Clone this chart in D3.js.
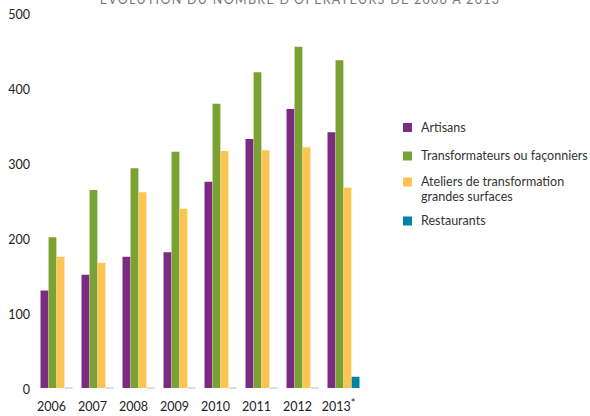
<!DOCTYPE html>
<html lang="fr">
<head>
<meta charset="utf-8">
<script src="https://cdn.jsdelivr.net/npm/d3@7"></script>
<style>
  html, body { margin: 0; padding: 0; background: #fff; }
  svg { display: block; font-family: Lato, "Open Sans", sans-serif; }
</style>
</head>
<body>
<svg id="chart" width="590" height="416"></svg>
<script>
// Nombre d'opérateurs par année et par catégorie
const years = ["2006", "2007", "2008", "2009", "2010", "2011", "2012", "2013"];
const yearNotes = ["", "", "", "", "", "", "", "*"];
const seriesNames = ["Artisans", "Transformateurs ou façonniers", "Ateliers de transformation grandes surfaces", "Restaurants"];
const legendLines = [["Artisans"], ["Transformateurs ou façonniers"], ["Ateliers de transformation", "grandes surfaces"], ["Restaurants"]];
const artisans = [130, 151, 175, 181, 275, 332, 372, 341];
const transformateurs = [201, 264, 293, 315, 379, 421, 455, 437];
const ateliers = [175, 167, 261, 239, 316, 317, 321, 267];
const restaurants = [0, 0, 0, 0, 0, 0, 0, 15];
const yTicks = [0, 100, 200, 300, 400, 500];
const colors = ["#7b2c81", "#7aa232", "#fec452", "#0082a6"];
const titleText = "ÉVOLUTION DU NOMBRE D'OPÉRATEURS DE 2006 À 2013";

const values = [artisans, transformateurs, ateliers, restaurants];
const svg = d3.select("#chart");

const x0 = d3.scaleBand().domain(years).range([36, 364]).paddingInner(0.22).paddingOuter(0.11);
const x1 = d3.scaleBand().domain(d3.range(seriesNames.length)).range([0, x0.bandwidth()]).paddingInner(0.03);
const y = d3.scaleLinear().domain([0, 500]).range([388, 13]);

// Titre (partiellement hors cadre en haut)
svg.append("text")
  .attr("x", 300).attr("y", 3.5)
  .attr("text-anchor", "middle")
  .attr("fill", "#777")
  .style("font-size", "12.5px")
  .style("letter-spacing", "1.3px")
  .text(titleText);

// Axe vertical : libellés seuls
const yAxis = d3.axisLeft(y).tickValues(yTicks).tickSize(0).tickPadding(0);
const gy = svg.append("g").attr("transform", "translate(30,1.5)").call(yAxis);
gy.select(".domain").remove();
gy.selectAll("text").attr("fill", "#222").style("font-size", "12.5px")
  .style("font-family", "Lato, 'Open Sans', sans-serif");

// Barres groupées
const groups = svg.append("g").selectAll("g")
  .data(years)
  .join("g")
  .attr("transform", d => `translate(${x0(d)},0)`);

groups.selectAll("rect")
  .data((d, i) => values.map((s, k) => ({ k, v: s[i] })))
  .join("rect")
  .attr("x", d => x1(d.k))
  .attr("width", x1.bandwidth())
  .attr("y", d => d.v > 0 ? y(d.v) : y(0) - 1)
  .attr("height", d => d.v > 0 ? y(0) - y(d.v) : 2)
  .attr("fill", d => d.v > 0 ? colors[d.k] : "#dcdcdc");

// Libellés des années (astérisque en exposant)
const xAxis = d3.axisBottom(x0).tickSize(0).tickPadding(0);
const gx = svg.append("g").attr("transform", "translate(-5,402)").call(xAxis);
gx.select(".domain").remove();
gx.selectAll("text")
  .attr("fill", "#222").style("font-size", "12.5px")
  .style("font-family", "Lato, 'Open Sans', sans-serif")
  .attr("text-anchor", "middle")
  .each(function (d, i) {
    if (!yearNotes[i]) return;
    const t = d3.select(this).text(null);
    t.append("tspan").text(d);
    t.append("tspan").attr("dy", "-0.35em").style("font-size", "11px").text(yearNotes[i]);
  });

// Légende
const legendY = [127.5, 156, 182, 221];
const legend = svg.append("g").selectAll("g")
  .data(seriesNames)
  .join("g")
  .attr("transform", (d, i) => `translate(403,${legendY[i]})`);

legend.append("rect")
  .attr("x", 0).attr("y", -4.5)
  .attr("width", 9).attr("height", 9)
  .attr("fill", (d, i) => colors[i]);

legend.append("text")
  .attr("x", 18).attr("y", 0)
  .attr("fill", "#333")
  .style("font-size", "12.5px")
  .selectAll("tspan")
  .data((d, i) => legendLines[i])
  .join("tspan")
  .attr("x", 18)
  .attr("dy", (d, j) => j === 0 ? "0.35em" : "1.2em")
  .text(d => d);
</script>
</body>
</html>
